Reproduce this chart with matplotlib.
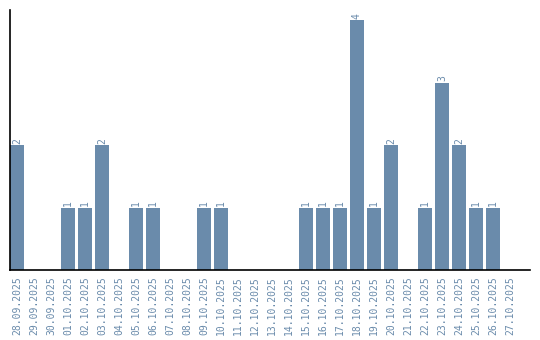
import matplotlib
matplotlib.use("Agg")
import matplotlib.pyplot as plt

dates = ["28.09.2025", "29.09.2025", "30.09.2025", "01.10.2025", "02.10.2025",
         "03.10.2025", "04.10.2025", "05.10.2025", "06.10.2025", "07.10.2025",
         "08.10.2025", "09.10.2025", "10.10.2025", "11.10.2025", "12.10.2025",
         "13.10.2025", "14.10.2025", "15.10.2025", "16.10.2025", "17.10.2025",
         "18.10.2025", "19.10.2025", "20.10.2025", "21.10.2025", "22.10.2025",
         "23.10.2025", "24.10.2025", "25.10.2025", "26.10.2025", "27.10.2025"]
counts = [2, 0, 0, 1, 1, 2, 0, 1, 1, 0,
          0, 1, 1, 0, 0, 0, 0, 1, 1, 1,
          4, 1, 2, 0, 1, 3, 2, 1, 1, 0]

bar_color = "#6a8bab"
text_color = "#6a8bab"

fig = plt.figure(figsize=(5.4, 3.4), dpi=100)
ax = fig.add_axes([10 / 540, 70 / 340, 520 / 540, 260 / 340])

x = list(range(len(dates)))
w = 0.82
ax.bar(x, counts, width=w, color=bar_color)

for xi, c in zip(x, counts):
    if c > 0:
        ax.text(xi, c + 0.02, str(c), rotation=90, ha="center", va="bottom",
                fontsize=7, color=text_color, family="DejaVu Sans Mono")

ax.set_xlim(-w / 2, -w / 2 + 520 / 17)
ax.set_ylim(0, 260 / 62.5)
ax.set_xticks(x)
ax.set_xticklabels(dates, rotation=90, fontsize=7, color=text_color,
                   family="DejaVu Sans Mono")
ax.tick_params(axis="x", length=0, pad=4.5)
ax.set_yticks([])
for s in ["top", "right"]:
    ax.spines[s].set_visible(False)
ax.spines["left"].set_linewidth(1.2)
ax.spines["bottom"].set_linewidth(1.2)

fig.savefig("out.png", dpi=100)
